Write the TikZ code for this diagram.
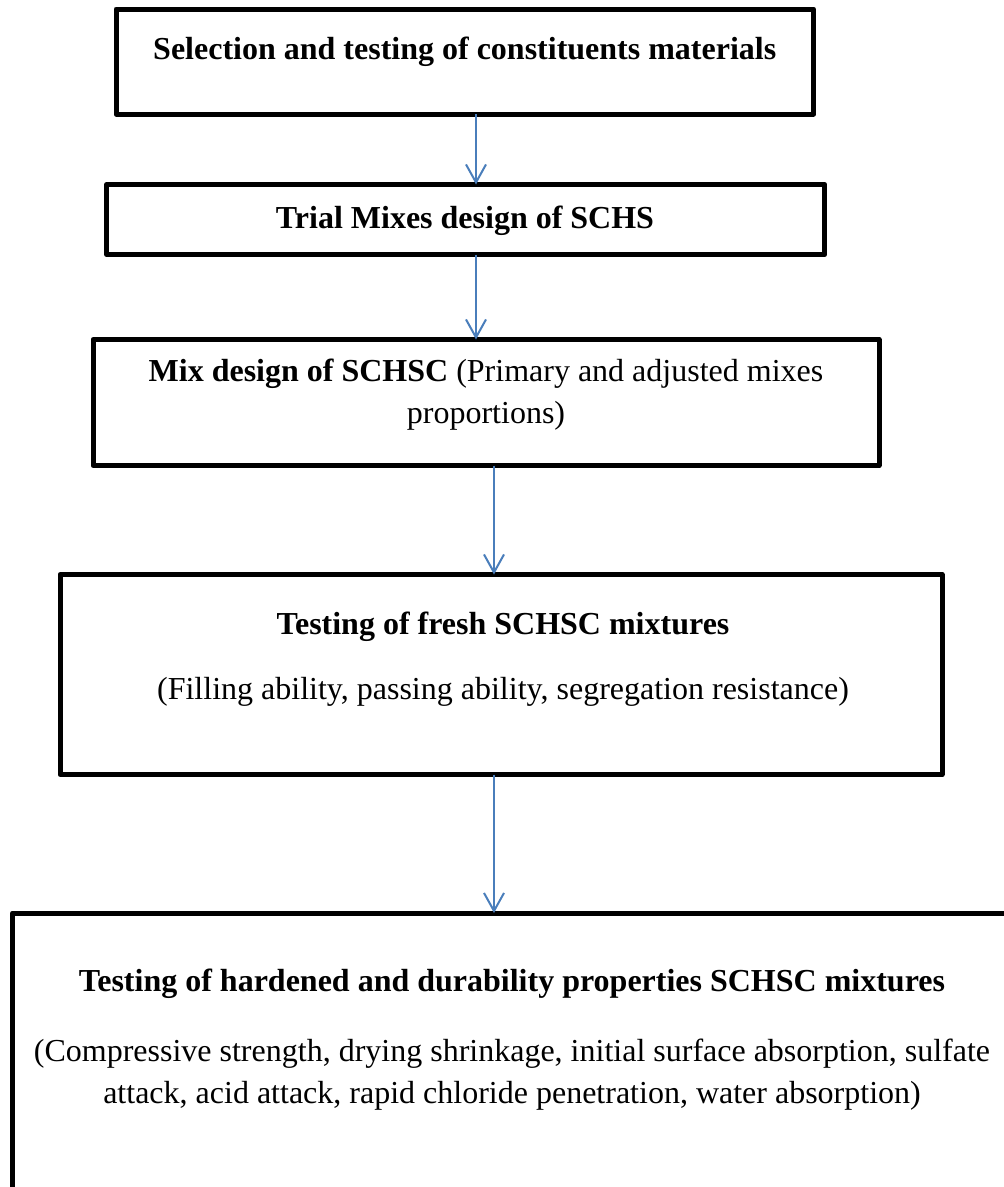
\documentclass[tikz,border=0pt]{standalone}
\usepackage{fontspec}
\setmainfont{Liberation Serif}
\usepackage{tikz}
\usetikzlibrary{arrows.meta,positioning,calc}
\definecolor{flowblue}{RGB}{74,126,187}

\begin{document}
\begin{tikzpicture}[x=1pt, y=-1pt,
    stage/.style={draw, line width=5pt, line join=round, inner sep=0pt, outer sep=0pt},
    flow/.style={draw=flowblue, line width=2pt, -{Straight Barb[length=18pt,width=20pt]}},
    txt/.style={anchor=base, align=center, inner sep=0pt, font=\fontsize{32}{42}\selectfont}]
    \useasboundingbox (0,0) rectangle (1004,1187);
    \clip (0,0) rectangle (1004,1187);

    % Boxes
    \node[stage, minimum width=697.5, minimum height=105] (b1) at (464.75,61.5) {};
    \node[stage, minimum width=718, minimum height=70] (b2) at (465.8,219.5) {};
    \node[stage, minimum width=786, minimum height=126] (b3) at (486,402.5) {};
    \node[stage, minimum width=882, minimum height=200] (b4) at (501,674.5) {};
    \node[stage, minimum width=999, minimum height=287] (b5) at (512,1056.5) {};

    % Texts (base = last line)
    \node[txt] (t1) at (464.75,59) {\textbf{Selection and testing of constituents materials}};
    \node[txt] (t2) at (465,228) {\textbf{Trial Mixes design of SCHS}};
    \node[txt] (t3) at (486,423) {\textbf{Mix design of SCHSC} (Primary and adjusted mixes\\ proportions)};
    \node[txt] (t4) at (503,699) {\textbf{Testing of fresh SCHSC mixtures}\\[23pt]
        (Filling ability, passing ability, segregation resistance)};
    \node[txt] (t5) at (512,1103.3) {\textbf{Testing of hardened and durability properties SCHSC mixtures}\\[28pt]
        (Compressive strength, drying shrinkage, initial surface absorption, sulfate\\
        attack, acid attack, rapid chloride penetration, water absorption)};

    % Arrows
    \coordinate (x1) at (476,0);
    \coordinate (x2) at (494,0);
    \draw[flow] (b1.south -| x1) -- (b2.north -| x1);
    \draw[flow] (b2.south -| x1) -- (b3.north -| x1);
    \draw[flow] (b3.south -| x2) -- (b4.north -| x2);
    \draw[flow] (b4.south -| x2) -- (b5.north -| x2);
\end{tikzpicture}
\end{document}
